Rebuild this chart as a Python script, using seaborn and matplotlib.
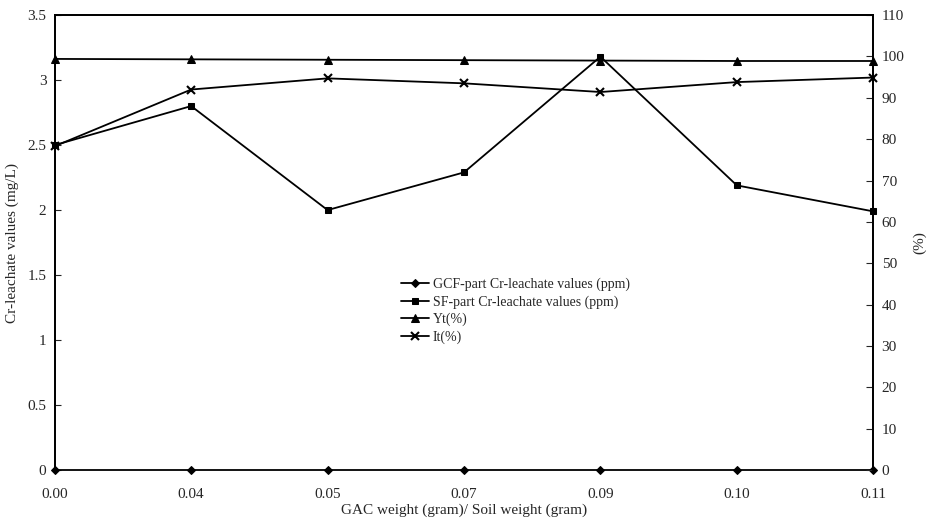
import matplotlib
matplotlib.use('Agg')
import matplotlib.pyplot as plt
from matplotlib.ticker import MultipleLocator, FormatStrFormatter
import seaborn as sns
import pandas as pd

# GAC/soil ratios (categorical x axis)
ratios = ['0.00', '0.04', '0.05', '0.07', '0.09', '0.10', '0.11']

# left axis, mg/L
gcf_cr = [0.0, 0.0, 0.0, 0.0, 0.0, 0.0, 0.0]
sf_cr = [2.50, 2.80, 2.00, 2.29, 3.18, 2.19, 1.99]

# right axis, %
yt_pct = [99.4, 99.3, 99.2, 99.1, 99.0, 98.9, 98.9]
it_pct = [78.3, 92.0, 94.7, 93.5, 91.4, 93.8, 94.9]

sns.set_theme(style='white')
plt.rcParams['font.family'] = ['Liberation Serif', 'DejaVu Serif']

df = pd.DataFrame({'ratio': ratios, 'gcf': gcf_cr, 'sf': sf_cr,
                   'yt': yt_pct, 'it': it_pct})

fig, ax = plt.subplots(figsize=(9.28, 5.2), dpi=100)
fig.subplots_adjust(left=0.059, right=0.941, top=0.971, bottom=0.096)
ax2 = ax.twinx()

lw = 1.3
common = dict(color='black', lw=lw, markeredgecolor='black', sort=False,
              clip_on=False)
sns.lineplot(data=df, x='ratio', y='gcf', ax=ax, marker='D', markersize=4.2,
             label='GCF-part Cr-leachate values (ppm)', **common)
sns.lineplot(data=df, x='ratio', y='sf', ax=ax, marker='s', markersize=5,
             label='SF-part Cr-leachate values (ppm)', **common)
sns.lineplot(data=df, x='ratio', y='yt', ax=ax2, marker='^', markersize=5.5,
             label='Yt(%)', **common)
sns.lineplot(data=df, x='ratio', y='it', ax=ax2, marker='x', markersize=5.5,
             mew=1.5, label='It(%)', **common)

ax.set_xlim(0, len(ratios) - 1)
ax.set_ylim(0, 3.5)
ax.yaxis.set_major_locator(MultipleLocator(0.5))
ax.yaxis.set_major_formatter(FormatStrFormatter('%g'))
ax2.set_ylim(0, 110)
ax2.yaxis.set_major_locator(MultipleLocator(10))

fs = 11
ax.tick_params(axis='y', direction='in', length=4, width=0.8, labelsize=fs, pad=6)
ax.tick_params(axis='x', length=0, labelsize=fs, pad=13)
ax2.tick_params(axis='y', direction='in', length=5, width=0.8, labelsize=fs, pad=6)

ax.set_xlabel('GAC weight (gram)/ Soil weight (gram)', fontsize=fs, labelpad=2)
ax.set_ylabel('Cr-leachate values (mg/L)', fontsize=fs, labelpad=6)
ax2.set_ylabel('(%)', fontsize=fs, labelpad=6)

for a in (ax, ax2):
    for side in ('top', 'left', 'right'):
        a.spines[side].set_color('black')
        a.spines[side].set_linewidth(1.3)
    a.spines['bottom'].set_visible(False)

# one legend for both axes, no frame
h1, l1 = ax.get_legend_handles_labels()
h2, l2 = ax2.get_legend_handles_labels()
ax.get_legend().remove()
ax2.get_legend().remove()
ax2.legend(h1 + h2, l1 + l2, loc='upper left', bbox_to_anchor=(0.416, 0.435),
           frameon=False, fontsize=10, handlelength=2.0, handletextpad=0.3,
           labelspacing=0.3, borderaxespad=0)

fig.savefig('out.png', dpi=100)
